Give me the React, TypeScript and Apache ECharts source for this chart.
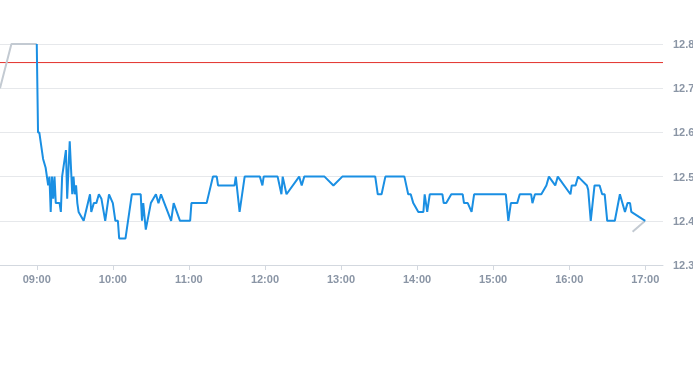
import React, { useEffect, useRef } from "react";
import * as echarts from "echarts";

const startMinute = 8 * 60 + 31;
const endMinute = 17 * 60 + 14;

const yTicks = [12.3, 12.4, 12.5, 12.6, 12.7, 12.8];
const referencePrice = 12.758;

const preTimes = ["08:31", "08:40", "09:00"];
const preValues = [12.7, 12.8, 12.8];

const postTimes = ["16:50", "17:00"];
const postValues = [12.375, 12.4];

const mainTimes = [
  "09:00", "09:01", "09:02", "09:05", "09:07", "09:09", "09:10", "09:11", "09:12", "09:13",
  "09:14", "09:15", "09:17", "09:18", "09:19", "09:20", "09:23", "09:24", "09:26", "09:28",
  "09:29", "09:30", "09:31", "09:32", "09:33", "09:37", "09:42", "09:43", "09:45", "09:47",
  "09:49", "09:51", "09:54", "09:57", "10:00", "10:02", "10:04", "10:05", "10:10", "10:15",
  "10:22", "10:23", "10:24", "10:26", "10:30", "10:34", "10:36", "10:38", "10:42", "10:46",
  "10:48", "10:53", "11:01", "11:02", "11:14", "11:19", "11:22", "11:23", "11:36", "11:37",
  "11:40", "11:44", "11:56", "11:58", "11:59", "12:10", "12:13", "12:14", "12:17", "12:27",
  "12:29", "12:31", "12:47", "12:54", "13:01", "13:27", "13:29", "13:32", "13:35", "13:50",
  "13:53", "13:55", "13:57", "14:01", "14:05", "14:06", "14:08", "14:10", "14:20", "14:21",
  "14:23", "14:27", "14:36", "14:37", "14:40", "14:43", "14:45", "15:10", "15:12", "15:14",
  "15:19", "15:21", "15:30", "15:31", "15:33", "15:38", "15:42", "15:44", "15:49", "15:51",
  "16:01", "16:02", "16:05", "16:07", "16:14", "16:15", "16:17", "16:20", "16:24", "16:26",
  "16:28", "16:30", "16:36", "16:40", "16:44", "16:46", "16:48", "16:49", "17:00"
];
const mainValues = [
  12.8, 12.6, 12.6, 12.54, 12.52, 12.48, 12.5, 12.42, 12.5, 12.45,
  12.5, 12.44, 12.44, 12.44, 12.42, 12.5, 12.56, 12.45, 12.58, 12.46,
  12.5, 12.46, 12.48, 12.44, 12.42, 12.4, 12.46, 12.42, 12.44, 12.44,
  12.46, 12.45, 12.4, 12.46, 12.44, 12.4, 12.4, 12.36, 12.36, 12.46,
  12.46, 12.4, 12.44, 12.38, 12.44, 12.46, 12.44, 12.46, 12.43, 12.4,
  12.44, 12.4, 12.4, 12.44, 12.44, 12.5, 12.5, 12.48, 12.48, 12.5,
  12.42, 12.5, 12.5, 12.48, 12.5, 12.5, 12.46, 12.5, 12.46, 12.5,
  12.48, 12.5, 12.5, 12.48, 12.5, 12.5, 12.46, 12.46, 12.5, 12.5,
  12.46, 12.46, 12.44, 12.42, 12.42, 12.46, 12.42, 12.46, 12.46, 12.44,
  12.44, 12.46, 12.46, 12.44, 12.44, 12.42, 12.46, 12.46, 12.4, 12.44,
  12.44, 12.46, 12.46, 12.44, 12.46, 12.46, 12.48, 12.5, 12.48, 12.5,
  12.46, 12.48, 12.48, 12.5, 12.48, 12.47, 12.4, 12.48, 12.48, 12.46,
  12.46, 12.4, 12.4, 12.46, 12.42, 12.44, 12.44, 12.42, 12.4
];

const pad = (n: number) => (n < 10 ? "0" + n : "" + n);
const categories: string[] = [];
for (let m = startMinute; m <= endMinute; m++) {
  categories.push(pad(Math.floor(m / 60)) + ":" + pad(m % 60));
}
const isHourLabel = (idx: number) => {
  const m = startMinute + idx;
  return m % 60 === 0 && m >= 540 && m <= 1020;
};

const pairs = (t: string[], v: number[]) => t.map((x, i) => [x, v[i]]);

export default function App() {
  const ref = useRef<HTMLDivElement>(null);
  useEffect(() => {
    if (!ref.current) return;
    const chart = echarts.init(ref.current, undefined, { renderer: "svg" });
    const labelStyle = {
      color: "#8a95a5",
      fontSize: 11,
      fontWeight: "bold" as const,
      fontFamily: "'Liberation Sans', Arial, sans-serif",
    };
    chart.setOption({
      animation: false,
      grid: {
        left: 0,
        right: 30,
        top: 44,
        bottom: 100,
        containLabel: false,
        outerBoundsMode: "none",
      },
      xAxis: {
        type: "category",
        data: categories,
        boundaryGap: false,
        axisLine: { lineStyle: { color: "#d3d8df" } },
        axisTick: {
          interval: (idx: number) => isHourLabel(idx),
          length: 5,
          lineStyle: { color: "#d3d8df" },
        },
        axisLabel: {
          ...labelStyle,
          interval: (idx: number) => isHourLabel(idx),
          margin: 8,
        },
        splitLine: { show: false },
      },
      yAxis: {
        type: "value",
        position: "right",
        min: yTicks[0],
        max: yTicks[yTicks.length - 1],
        interval: 0.1,
        axisLine: { show: false },
        axisTick: { show: false },
        axisLabel: { ...labelStyle, margin: 10, formatter: (v: number) => v.toFixed(1) },
        splitLine: { lineStyle: { color: "#e6e8eb", width: 1 } },
      },
      series: [
        {
          type: "line",
          data: [
            [categories[0], referencePrice],
            [categories[categories.length - 1], referencePrice],
          ],
          symbol: "none",
          silent: true,
          itemStyle: { color: "#e3302b" },
          lineStyle: { color: "#e3302b", width: 1 },
        },
        {
          type: "line",
          data: pairs(preTimes, preValues),
          symbol: "none",
          itemStyle: { color: "#c3cad2" },
          lineStyle: { color: "#c3cad2", width: 2 },
          connectNulls: true,
        },
        {
          type: "line",
          data: pairs(postTimes, postValues),
          symbol: "none",
          itemStyle: { color: "#c3cad2" },
          lineStyle: { color: "#c3cad2", width: 2 },
          connectNulls: true,
        },
        {
          type: "line",
          data: pairs(mainTimes, mainValues),
          symbol: "none",
          itemStyle: { color: "#1a8fe3" },
          lineStyle: { color: "#1a8fe3", width: 2 },
          connectNulls: true,
        },
      ],
    });
    return () => chart.dispose();
  }, []);
  return (
    <div
      ref={ref}
      style={{ position: "fixed", left: 0, top: 0, width: 693, height: 365 }}
    />
  );
}
